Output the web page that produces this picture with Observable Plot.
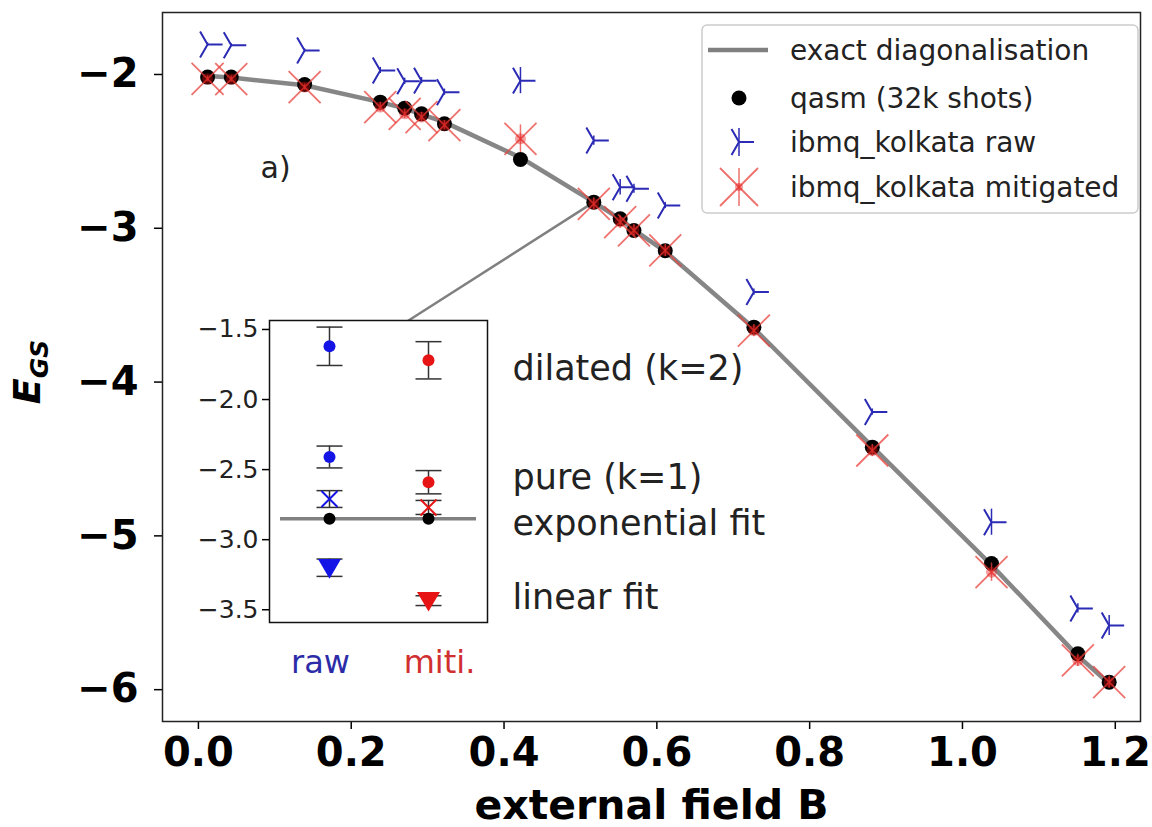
<!DOCTYPE html>
<html><head><meta charset="utf-8">
<script src="https://cdn.jsdelivr.net/npm/d3@7"></script>
<script src="https://cdn.jsdelivr.net/npm/@observablehq/plot@0.6"></script>
<style>
body{margin:0;background:#fff;}
#wrap{position:relative;width:1152px;height:827px;font-family:"DejaVu Sans",sans-serif;}
#inset{position:absolute;left:200px;top:300px;}
</style></head><body><div id="wrap"><div id="main"></div><div id="inset"></div></div>
<script>
// ---------- main data ----------
const B      = [0.012, 0.043, 0.139, 0.238, 0.270, 0.292, 0.322, 0.4215, 0.5175, 0.552, 0.570, 0.611, 0.727, 0.882, 1.038, 1.151, 1.192];
const exactE = [-2.01, -2.02, -2.07, -2.18, -2.22, -2.26, -2.31, -2.54, -2.83, -2.94, -3.01, -3.15, -3.65, -4.42, -5.19, -5.78, -5.96];
const qasmE  = [-2.017, -2.017, -2.065, -2.18, -2.219, -2.256, -2.32, -2.553, -2.83, -2.938, -3.014, -3.146, -3.643, -4.423, -5.18, -5.767, -5.951];
const rawE   = [-1.805, -1.81, -1.844, -1.974, -2.044, -2.04, -2.115, -2.04, -2.43, -2.733, -2.743, -2.852, -3.415, -4.195, -4.911, -5.472, -5.583];
const rawErr = [0.01, 0.01, 0.01, 0.02, 0.02, 0.02, 0.02, 0.085, 0.03, 0.05, 0.03, 0.02, 0.02, 0.02, 0.085, 0.03, 0.065];
const mitE   = [-2.028, -2.03, -2.082, -2.212, -2.256, -2.277, -2.33, -2.418, -2.841, -2.96, -3.014, -3.144, -3.665, -4.445, -5.236, -5.81, -5.951];
const mitErr = [0.02, 0.02, 0.02, 0.03, 0.03, 0.03, 0.03, 0.09, 0.04, 0.04, 0.04, 0.04, 0.04, 0.04, 0.06, 0.04, 0.04];
const xTicks = [0, 0.2, 0.4, 0.6, 0.8, 1.0, 1.2];
const yTicks = [-2, -3, -4, -5, -6];
const connectorB = [0.5175, 0.275];
const connectorE = [-2.83, -3.60];
const legendLabels = ["exact diagonalisation", "qasm (32k shots)", "ibmq_kolkata raw", "ibmq_kolkata mitigated"];

// ---------- inset data ----------
const insetCats  = ["raw", "miti."];
const insetRows  = ["dilated (k=2)", "pure (k=1)", "exponential fit", "linear fit"];
const insetRawE  = [-1.62, -2.41, -2.71, -3.20];
const insetRawErr= [0.137, 0.078, 0.06, 0.062];
const insetMitE  = [-1.72, -2.59, -2.77, -3.435];
const insetMitErr= [0.133, 0.083, 0.05, 0.035];
const insetExact = -2.85;
const insetTicks = [-1.5, -2.0, -2.5, -3.0, -3.5];

// ---------- symbols ----------
const triRight = {draw(c, s){const r=Math.sqrt(s/Math.PI);c.moveTo(0,0);c.lineTo(r,0);c.moveTo(0,0);c.lineTo(-0.5*r,-0.866*r);c.moveTo(0,0);c.lineTo(-0.5*r,0.866*r);}};
const xCross  = {draw(c, s){const r=Math.sqrt(s/Math.PI);c.moveTo(-r,-r);c.lineTo(r,r);c.moveTo(-r,r);c.lineTo(r,-r);}};
const capLine = {draw(c, s){const r=Math.sqrt(s/Math.PI);c.moveTo(-r,0);c.lineTo(r,0);}};
const triDown = {draw(c, s){const r=Math.sqrt(s/Math.PI);c.moveTo(-r,-0.75*r);c.lineTo(r,-0.75*r);c.lineTo(0,0.95*r);c.closePath();}};

const BLUE = "#2b2bb5", RED = "#e8413c", GRAY = "#808080";
const idx = d3.range(B.length);

const main = Plot.plot({
  width: 1152, height: 827,
  marginLeft: 162, marginRight: 12, marginTop: 12, marginBottom: 106,
  style: {fontFamily: "DejaVu Sans", background: "white", overflow: "visible"},
  x: {domain: [-0.047, 1.233]},
  y: {domain: [-6.207, -1.597]},
  marks: [
    Plot.axisX({ticks: xTicks, tickFormat: d3.format(".1f"), fontSize: 40, fontWeight: "bold", tickSize: 8, tickPadding: 8, strokeWidth: 1.5, label: null, fill: "black"}),
    Plot.axisY({ticks: yTicks, tickFormat: d3.format("d"), fontSize: 40, fontWeight: "bold", tickSize: 8, tickPadding: 16, strokeWidth: 1.5, label: null, fill: "black"}),
    Plot.line(idx, {x: i => B[i], y: i => exactE[i], stroke: GRAY, strokeWidth: 4.5, strokeOpacity: 0.95}),
    Plot.line([0, 1], {x: i => connectorB[i], y: i => connectorE[i], stroke: GRAY, strokeWidth: 2.5}),
    Plot.ruleX(idx, {x: i => B[i], y1: i => rawE[i] - rawErr[i], y2: i => rawE[i] + rawErr[i], stroke: BLUE, strokeWidth: 1.5}),
    Plot.dot(idx, {x: i => B[i], y: i => rawE[i], symbol: triRight, r: 15, fill: "none", stroke: BLUE, strokeWidth: 2}),
    Plot.dot(idx, {x: i => B[i], y: i => qasmE[i], r: 7.5, fill: "black"}),
    Plot.ruleX(idx, {x: i => B[i], y1: i => mitE[i] - mitErr[i], y2: i => mitE[i] + mitErr[i], stroke: RED, strokeWidth: 1.5, strokeOpacity: 0.75}),
    Plot.dot(idx, {x: i => B[i], y: i => mitE[i], symbol: xCross, r: 16, fill: "none", stroke: RED, strokeWidth: 1.8, strokeOpacity: 0.75}),
    Plot.dot(idx, {x: i => B[i], y: i => mitE[i], r: 5.5, fill: "#e01010", fillOpacity: 0.4}),
    Plot.text(["a)"], {text: d => d, frameAnchor: "top-left", dx: 98, dy: 156, textAnchor: "start", lineAnchor: "middle", fontSize: 30, fill: "#222"}),
    Plot.text(["external field B"], {text: d => d, frameAnchor: "bottom", dy: 97, lineAnchor: "bottom", fontSize: 41, fontWeight: "bold", fill: "black"}),
    ...insetRows.map((t, k) => Plot.text([t], {text: d => d, frameAnchor: "top-left", dx: 350, dy: [356, 465, 511, 585][k], textAnchor: "start", lineAnchor: "middle", fontSize: 35, fill: "#222"})),
    Plot.frame({stroke: "#222", strokeWidth: 1.5})
  ]
});
document.getElementById("main").appendChild(main);

// y label E_GS and legend
const svg = d3.select(main);
const yl = svg.append("text").attr("transform", "translate(40,372) rotate(-90)").attr("text-anchor", "middle")
  .attr("font-family", "DejaVu Sans").attr("fill", "black");
yl.append("tspan").attr("font-style", "italic").attr("font-weight", "bold").attr("font-size", 38).text("E");
yl.append("tspan").attr("font-style", "italic").attr("font-weight", "bold").attr("font-size", 25).attr("dy", 8).text("GS");

const lg = svg.append("g").attr("font-family", "DejaVu Sans").attr("text-anchor", "start");
lg.append("rect").attr("x", 702).attr("y", 25).attr("width", 436).attr("height", 188).attr("rx", 5)
  .attr("fill", "white").attr("fill-opacity", 0.85).attr("stroke", "#cccccc").attr("stroke-width", 1.5);
const ly = [50, 98, 142, 187];
lg.append("line").attr("x1", 708).attr("x2", 768).attr("y1", ly[0]).attr("y2", ly[0]).attr("stroke", GRAY).attr("stroke-width", 4.5);
lg.append("circle").attr("cx", 739).attr("cy", ly[1]).attr("r", 7.5).attr("fill", "black");
lg.append("line").attr("x1", 739).attr("x2", 739).attr("y1", ly[2]-14).attr("y2", ly[2]+14).attr("stroke", BLUE).attr("stroke-width", 1.5);
lg.append("path").attr("transform", `translate(739,${ly[2]})`).attr("d", d3.symbol(triRight, 15*15*Math.PI)()).attr("fill", "none").attr("stroke", BLUE).attr("stroke-width", 2);
lg.append("line").attr("x1", 739).attr("x2", 739).attr("y1", ly[3]-19).attr("y2", ly[3]+19).attr("stroke", RED).attr("stroke-width", 1.5).attr("stroke-opacity", 0.75);
lg.append("path").attr("transform", `translate(739,${ly[3]})`).attr("d", d3.symbol(xCross, 19*19*Math.PI)()).attr("fill", "none").attr("stroke", RED).attr("stroke-width", 1.8).attr("stroke-opacity", 0.75);
lg.append("circle").attr("cx", 739).attr("cy", ly[3]).attr("r", 4).attr("fill", "#e01010").attr("fill-opacity", 0.4);
legendLabels.forEach((t, k) => lg.append("text").attr("x", 790).attr("y", ly[k]).attr("dy", "0.35em").attr("text-anchor", "start").attr("font-size", 28).attr("fill", "#222").text(t));

// ---------- inset ----------
const insetData = [];
insetRows.forEach((r, k) => {
  insetData.push({cat: insetCats[0], row: k, v: insetRawE[k], e: insetRawErr[k]});
  insetData.push({cat: insetCats[1], row: k, v: insetMitE[k], e: insetMitErr[k]});
});
const colorOf = c => c === insetCats[0] ? "#1414e6" : "#e61414";
const isDot = d => d.row <= 1, isX = d => d.row === 2, isTri = d => d.row === 3;

const inset = Plot.plot({
  width: 300, height: 392,
  marginLeft: 69, marginRight: 13, marginTop: 20, marginBottom: 70,
  style: {fontFamily: "DejaVu Sans", background: "transparent", overflow: "visible"},
  x: {type: "point", domain: insetCats, padding: 0.6, axis: null},
  y: {domain: [-3.591, -1.436]},
  marks: [
    Plot.frame({fill: "white", stroke: null}),
    Plot.axisY({ticks: insetTicks, tickFormat: d3.format(".1f"), fontSize: 25, tickSize: 7, tickPadding: 4, strokeWidth: 1.5, label: null, fill: "#222"}),
    Plot.ruleY([insetExact], {stroke: GRAY, strokeWidth: 3.5, insetLeft: 11, insetRight: 11}),
    Plot.ruleX(insetData, {x: "cat", y1: d => d.v - d.e, y2: d => d.v + d.e, stroke: "#333", strokeWidth: 1.5}),
    Plot.dot(insetData, {x: "cat", y: d => d.v - d.e, symbol: capLine, r: 13, stroke: "#333", strokeWidth: 1.5, fill: "none"}),
    Plot.dot(insetData, {x: "cat", y: d => d.v + d.e, symbol: capLine, r: 13, stroke: "#333", strokeWidth: 1.5, fill: "none"}),
    Plot.dot(insetData.filter(isDot), {x: "cat", y: "v", r: 6, fill: d => colorOf(d.cat)}),
    Plot.dot(insetData.filter(isTri), {x: "cat", y: "v", symbol: triDown, r: 11.5, fill: d => colorOf(d.cat), stroke: "none"}),
    Plot.dot(insetData.filter(isX), {x: "cat", y: "v", symbol: xCross, r: 8, fill: "none", stroke: d => colorOf(d.cat), strokeWidth: 2}),
    Plot.dot(insetCats, {x: d => d, y: () => insetExact, r: 6, fill: "black"}),
    Plot.text([insetCats[0]], {x: d => d, y: () => -3.591, text: d => d, dy: 40, dx: -9, lineAnchor: "middle", fontSize: 32, fill: "#2c2ca8"}),
    Plot.text([insetCats[1]], {x: d => d, y: () => -3.591, text: d => d, dy: 40, dx: 11, lineAnchor: "middle", fontSize: 32, fill: "#d03030"}),
    Plot.frame({stroke: "#111", strokeWidth: 1.5})
  ]
});
document.getElementById("inset").appendChild(inset);
</script></body></html>
